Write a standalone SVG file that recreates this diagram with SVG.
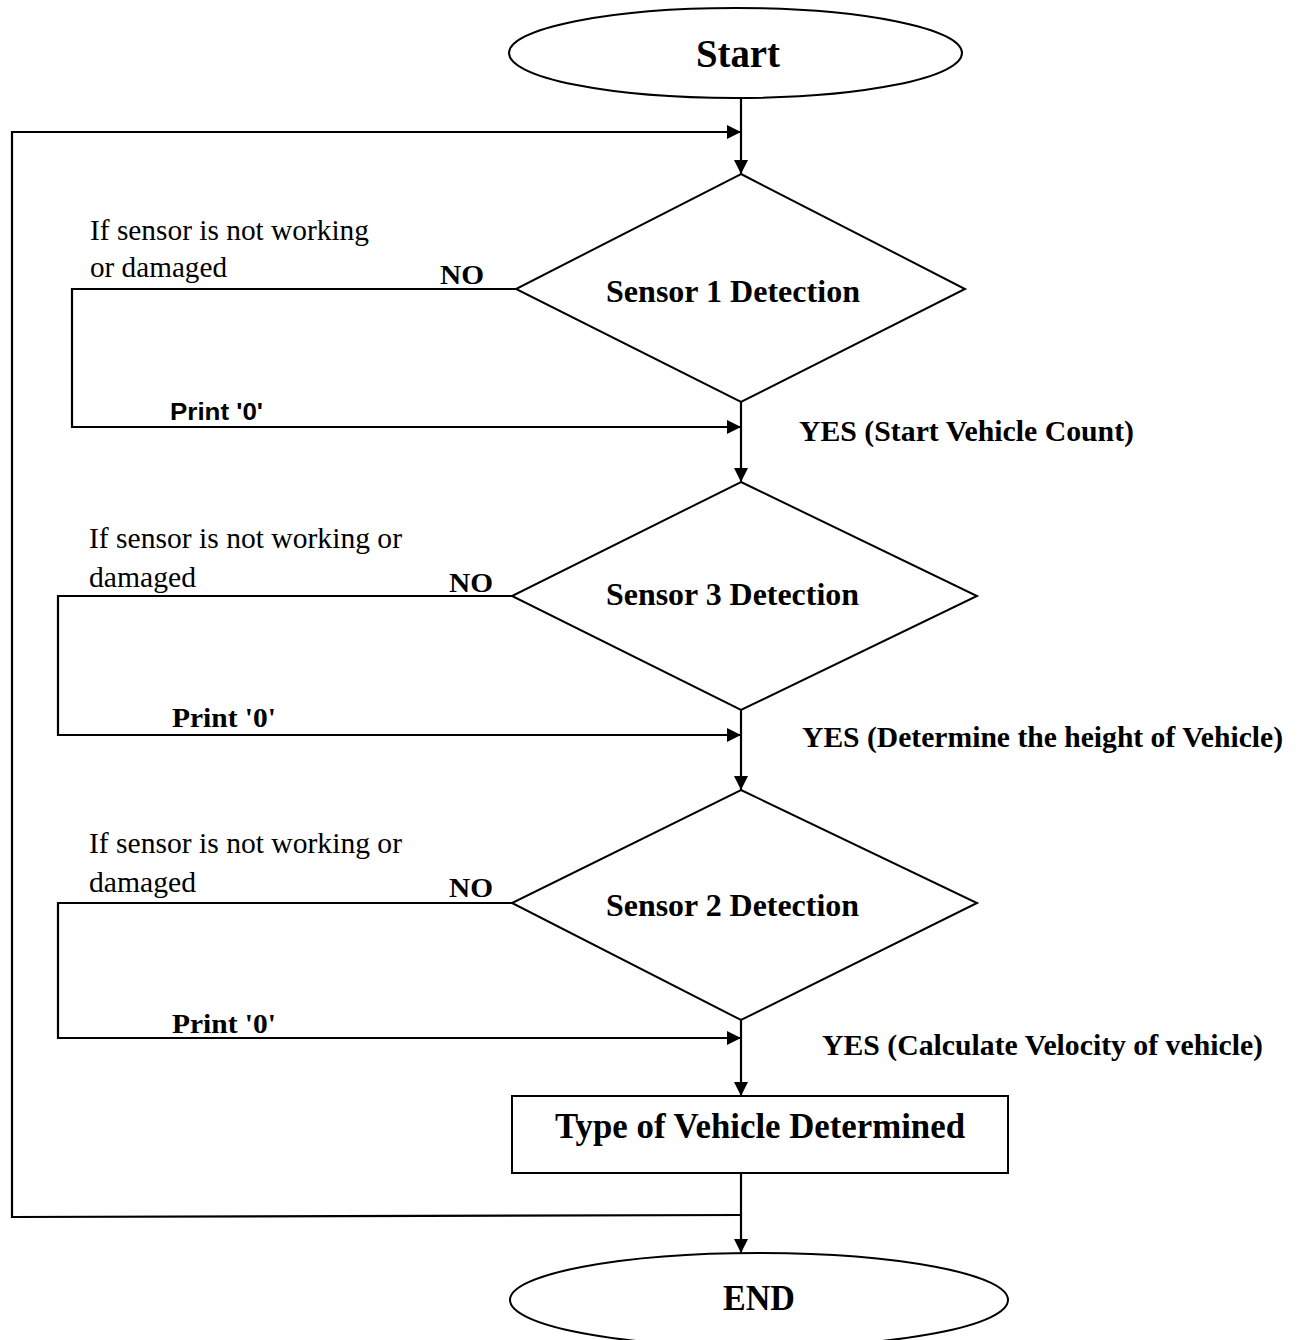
<svg xmlns="http://www.w3.org/2000/svg" width="1303" height="1340" viewBox="0 0 1303 1340">
<defs>
<marker id="arr" markerUnits="userSpaceOnUse" markerWidth="14" markerHeight="14" refX="14" refY="7" orient="auto">
<path d="M0,0 L14,7 L0,14 z" fill="#000"/>
</marker>
<style>
.shape{fill:#fff;stroke:#000;stroke-width:2}
.ln{fill:none;stroke:#000;stroke-width:2.2}
.arr{marker-end:url(#arr)}
.reg{font-family:"Liberation Serif","Times New Roman",serif;font-size:29px;fill:#000}
.bold{font-family:"Liberation Serif","Times New Roman",serif;font-weight:bold;fill:#000}
.sans{font-family:"Liberation Sans",Arial,sans-serif;font-weight:bold;font-size:24px;fill:#000}
</style>
</defs>
<rect width="1303" height="1340" fill="#fff"/>
<g id="connectors">
<path class="ln arr" d="M741,98 L741,174"/>
<path class="ln arr" d="M741,402 L741,482"/>
<path class="ln arr" d="M741,710 L741,790"/>
<path class="ln arr" d="M741,1020 L741,1096"/>
<path class="ln arr" d="M741,1173 L741,1253"/>
<path class="ln arr" d="M741,1215 L12,1217 L12,132 L741,132"/>
<path class="ln arr" d="M516,289 L72,289 L72,427 L741,427"/>
<path class="ln arr" d="M512,596 L58,596 L58,735 L741,735"/>
<path class="ln arr" d="M512,903 L58,903 L58,1038 L741,1038"/>
</g>
<g id="start">
<ellipse class="shape" cx="735.5" cy="53" rx="226.5" ry="45"/>
<text class="bold" x="696" y="67" font-size="39" textLength="84" lengthAdjust="spacingAndGlyphs">Start</text>
</g>
<g id="sensor1">
<polygon class="shape" points="741,174 965,289 741,402 516,289"/>
<text class="bold" x="606" y="302" font-size="31" textLength="254" lengthAdjust="spacingAndGlyphs">Sensor 1 Detection</text>
</g>
<g id="sensor3">
<polygon class="shape" points="741,482 977,596 741,710 512,596"/>
<text class="bold" x="606" y="605" font-size="31" textLength="253" lengthAdjust="spacingAndGlyphs">Sensor 3 Detection</text>
</g>
<g id="sensor2">
<polygon class="shape" points="741,790 977,903 741,1020 512,903"/>
<text class="bold" x="606" y="916" font-size="31" textLength="253" lengthAdjust="spacingAndGlyphs">Sensor 2 Detection</text>
</g>
<g id="type">
<rect class="shape" x="512" y="1096" width="496" height="77"/>
<text class="bold" x="555" y="1138" font-size="35" textLength="410" lengthAdjust="spacingAndGlyphs">Type of Vehicle Determined</text>
</g>
<g id="end">
<ellipse class="shape" cx="759" cy="1300" rx="249" ry="47"/>
<text class="bold" x="723" y="1310" font-size="36" textLength="72" lengthAdjust="spacingAndGlyphs">END</text>
</g>
<g id="labels">
<text class="reg" x="90" y="240" textLength="279" lengthAdjust="spacingAndGlyphs">If sensor is not working</text>
<text class="reg" x="90" y="277" textLength="137" lengthAdjust="spacingAndGlyphs">or damaged</text>
<text class="bold" x="440" y="284" font-size="28" textLength="44" lengthAdjust="spacingAndGlyphs">NO</text>
<text class="sans" x="170" y="420" textLength="93" lengthAdjust="spacingAndGlyphs">Print '0'</text>
<text class="bold" x="799" y="441" font-size="30" textLength="335" lengthAdjust="spacingAndGlyphs">YES (Start Vehicle Count)</text>

<text class="reg" x="89" y="548" textLength="313" lengthAdjust="spacingAndGlyphs">If sensor is not working or</text>
<text class="reg" x="89" y="587" textLength="107" lengthAdjust="spacingAndGlyphs">damaged</text>
<text class="bold" x="449" y="592" font-size="28" textLength="44" lengthAdjust="spacingAndGlyphs">NO</text>
<text class="bold" x="172" y="727" font-size="28" textLength="104" lengthAdjust="spacingAndGlyphs">Print '0'</text>
<text class="bold" x="802" y="747" font-size="30" textLength="481" lengthAdjust="spacingAndGlyphs">YES (Determine the height of Vehicle)</text>

<text class="reg" x="89" y="853" textLength="313" lengthAdjust="spacingAndGlyphs">If sensor is not working or</text>
<text class="reg" x="89" y="892" textLength="107" lengthAdjust="spacingAndGlyphs">damaged</text>
<text class="bold" x="449" y="897" font-size="28" textLength="44" lengthAdjust="spacingAndGlyphs">NO</text>
<text class="bold" x="172" y="1033" font-size="28" textLength="104" lengthAdjust="spacingAndGlyphs">Print '0'</text>
<text class="bold" x="822" y="1055" font-size="30" textLength="441" lengthAdjust="spacingAndGlyphs">YES (Calculate Velocity of vehicle)</text>
</g>
</svg>
